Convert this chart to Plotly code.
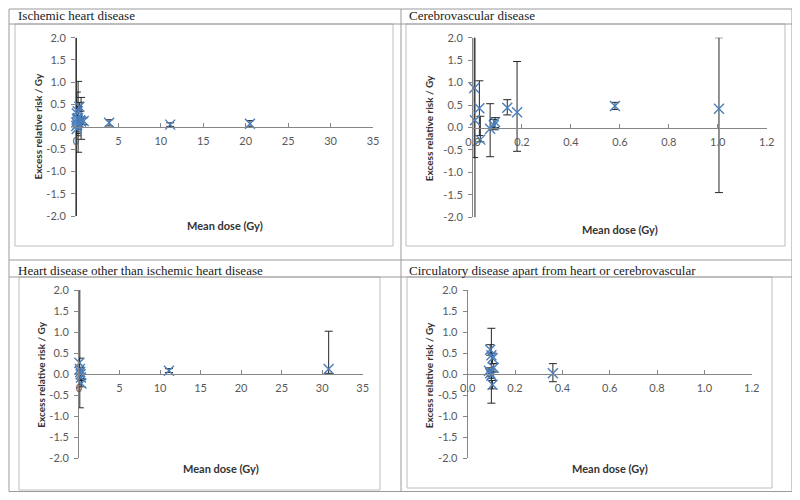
import plotly.graph_objects as go

# page body has an 8px margin, so the figure is drawn 8px smaller and shifted
OFF = 8
W, H = 800 - 2 * OFF, 500 - 2 * OFF

# ---------------- data ----------------
panel_titles = [
    "Ischemic heart disease",
    "Cerebrovascular disease",
    "Heart disease other than ischemic heart disease",
    "Circulatory disease apart from heart or cerebrovascular",
]
x_axis_title = "Mean dose (Gy)"
y_axis_title = "Excess relative risk / Gy"

y_tick_vals = [-2.0, -1.5, -1.0, -0.5, 0.0, 0.5, 1.0, 1.5, 2.0]
y_tick_text = ["-2.0", "-1.5", "-1.0", "-0.5", "0.0", "0.5", "1.0", "1.5", "2.0"]
x_tick_vals_35 = [0, 5, 10, 15, 20, 25, 30, 35]
x_tick_text_35 = ["0", "5", "10", "15", "20", "25", "30", "35"]
x_tick_vals_12 = [0.0, 0.2, 0.4, 0.6, 0.8, 1.0, 1.2]
x_tick_text_12 = ["0.0", "0.2", "0.4", "0.6", "0.8", "1.0", "1.2"]

# Ischemic heart disease
ihd_dose = [0.03, 0.05, 0.08, 0.10, 0.12, 0.15, 0.20, 0.25, 0.30, 0.40, 0.50, 0.60, 0.90, 3.9, 11.1, 20.5]
ihd_err = [0.02, 0.10, -0.05, 0.30, 0.18, 0.05, 0.35, 0.20, 0.10, 0.45, 0.15, 0.12, 0.13, 0.09, 0.05, 0.07]
ihd_lo = [-0.10, -2.50, -0.15, -0.20, 0.10, -0.05, 0.25, -0.57, 0.00, 0.35, 0.08, -0.28, 0.05, 0.02, 0.01, 0.00]
ihd_hi = [0.15, 2.50, 0.05, 0.78, 0.26, 0.15, 0.45, 1.02, 0.20, 0.55, 0.22, 0.66, 0.20, 0.16, 0.09, 0.14]

# Cerebrovascular disease
cbv_dose = [0.005, 0.008, 0.026, 0.030, 0.070, 0.085, 0.090, 0.140, 0.180, 0.580, 1.005]
cbv_err = [0.88, 0.16, 0.43, -0.27, -0.03, 0.05, 0.12, 0.44, 0.34, 0.48, 0.42]
cbv_lo = [-0.67, -2.50, -0.18, -0.32, -0.65, -0.05, 0.00, 0.28, -0.53, 0.40, -1.45]
cbv_hi = [2.50, 2.50, 1.04, 0.25, 0.53, 0.18, 0.22, 0.62, 1.47, 0.56, 2.00]

# Heart disease other than ischemic heart disease
hdo_dose = [0.05, 0.10, 0.15, 0.20, 0.25, 0.30, 11.1, 30.8]
hdo_err = [0.27, 0.12, 0.05, 0.00, -0.08, -0.22, 0.08, 0.12]
hdo_lo = [0.15, -0.80, -0.05, -0.10, -0.15, -0.30, 0.04, 0.02]
hdo_hi = [0.38, 2.50, 0.15, 0.10, 0.00, -0.12, 0.13, 1.02]

# Circulatory disease apart from heart or cerebrovascular
circ_dose = [0.095, 0.100, 0.105, 0.090, 0.095, 0.100, 0.105, 0.110, 0.360]
circ_err = [0.58, 0.45, 0.38, 0.08, 0.02, -0.03, -0.25, 0.15, 0.02]
circ_lo = [0.45, -0.69, 0.25, 0.00, -0.05, -0.10, -0.35, 0.05, -0.18]
circ_hi = [0.70, 1.09, 0.50, 0.15, 0.10, 0.05, -0.15, 0.25, 0.25]

# ---------------- styling ----------------
MARKER_COLOR = "#4A7EBB"
ERR_COLOR = "#262626"
AXIS_COLOR = "#868686"
TICK_FONT = dict(family="Lato, Open Sans, sans-serif", size=11, color="#595959")
TITLE_FONT = dict(family="Liberation Serif, Times New Roman, serif", size=13, color="#1a1a1a")
XTITLE_FONT = dict(family="Lato, Open Sans, sans-serif", size=11, color="#333333")
YTITLE_FONT = dict(family="Lato, Open Sans, sans-serif", size=10, color="#333333")
TABLE_LINE = "#9a9a9a"
BOX_LINE = "#bdbdbd"


def px_x(v):
    return (v - OFF) / W


def px_y(v):
    return 1 - (v - OFF) / H


# panel plot boxes in screen pixels: (left, right, top, bottom)
panels = [
    dict(box=(76, 373, 37.7, 216.0), xmax=35, xt=(x_tick_vals_35, x_tick_text_35),
         data=(ihd_dose, ihd_err, ihd_lo, ihd_hi),
         title_pos=(16, 16), xtitle=(224.5, 226), ytitle=(37.5, 127)),
    dict(box=(473, 766.7, 37.7, 217.3), xmax=1.2, xt=(x_tick_vals_12, x_tick_text_12),
         data=(cbv_dose, cbv_err, cbv_lo, cbv_hi),
         title_pos=(407, 16), xtitle=(620, 229), ytitle=(429.3, 128)),
    dict(box=(79, 362.7, 290.0, 458.3), xmax=35, xt=(x_tick_vals_35, x_tick_text_35),
         data=(hdo_dose, hdo_err, hdo_lo, hdo_hi),
         title_pos=(16, 270), xtitle=(220.7, 468), ytitle=(40.7, 375)),
    dict(box=(467.7, 751.7, 290.0, 458.3), xmax=1.2, xt=(x_tick_vals_12, x_tick_text_12),
         data=(circ_dose, circ_err, circ_lo, circ_hi),
         title_pos=(407, 270), xtitle=(610, 468), ytitle=(429.3, 375)),
]

fig = go.Figure()
annotations = []
shapes = []
layout_axes = {}

for i, p in enumerate(panels, start=1):
    sfx = "" if i == 1 else str(i)
    xa, ya = "x" + sfx, "y" + sfx
    dose, val, lo, hi = p["data"]
    plus = [h - v for h, v in zip(hi, val)]
    minus = [v - l for v, l in zip(val, lo)]
    # error bars (clipped to plot area)
    fig.add_trace(go.Scatter(
        x=dose, y=val, mode="markers", xaxis=xa, yaxis=ya,
        marker=dict(size=1, opacity=0),
        error_y=dict(type="data", symmetric=False, array=plus, arrayminus=minus,
                     color=ERR_COLOR, thickness=1, width=4),
        showlegend=False, hoverinfo="skip", cliponaxis=True,
    ))
    # markers (not clipped)
    fig.add_trace(go.Scatter(
        x=dose, y=val, mode="markers", xaxis=xa, yaxis=ya,
        marker=dict(symbol="x-thin", size=10, color=MARKER_COLOR,
                    line=dict(width=1.4, color=MARKER_COLOR)),
        showlegend=False, cliponaxis=False,
    ))
    l, r, t, b = p["box"]
    ydom = [px_y(b), px_y(t)]
    layout_axes["xaxis" + sfx] = dict(
        domain=[px_x(l), px_x(r)], range=[0, p["xmax"]], anchor="free",
        position=(ydom[0] + ydom[1]) / 2, automargin=False,
        showline=True, linecolor=AXIS_COLOR, linewidth=1, mirror=False,
        ticks="inside", ticklen=4, tickcolor=AXIS_COLOR, tickwidth=1,
        tickvals=p["xt"][0], ticktext=p["xt"][1], tickfont=TICK_FONT,
        ticklabelstandoff=4,
        showgrid=False, zeroline=False, fixedrange=True,
    )
    layout_axes["yaxis" + sfx] = dict(
        domain=ydom, range=[-2, 2], anchor=xa, automargin=False,
        showline=True, linecolor=AXIS_COLOR, linewidth=1,
        ticks="outside", ticklen=4, tickcolor=AXIS_COLOR, tickwidth=1,
        tickvals=y_tick_vals, ticktext=y_tick_text, tickfont=TICK_FONT,
        ticklabelstandoff=3,
        showgrid=False, zeroline=False, fixedrange=True,
    )
    tx, ty = p["title_pos"]
    annotations.append(dict(text=panel_titles[i - 1], x=px_x(tx), y=px_y(ty), xref="paper", yref="paper",
                            xanchor="left", yanchor="middle", showarrow=False, font=TITLE_FONT))
    ax, ay = p["xtitle"]
    annotations.append(dict(text="<b>" + x_axis_title + "</b>", x=px_x(ax), y=px_y(ay), xref="paper",
                            yref="paper", xanchor="center", yanchor="middle", showarrow=False,
                            font=XTITLE_FONT))
    yx, yy = p["ytitle"]
    annotations.append(dict(text="<b>" + y_axis_title + "</b>", x=px_x(yx), y=px_y(yy), xref="paper",
                            yref="paper", xanchor="center", yanchor="middle", showarrow=False,
                            textangle=-90, font=YTITLE_FONT))


def hline(x0, x1, y, color):
    shapes.append(dict(type="line", xref="paper", yref="paper", x0=px_x(x0), x1=px_x(x1),
                       y0=px_y(y), y1=px_y(y), line=dict(color=color, width=1)))


def vline(x, y0, y1, color):
    shapes.append(dict(type="line", xref="paper", yref="paper", x0=px_x(x), x1=px_x(x),
                       y0=px_y(y0), y1=px_y(y1), line=dict(color=color, width=1)))


def rect(x0, x1, y0, y1, color):
    shapes.append(dict(type="rect", xref="paper", yref="paper", x0=px_x(x0), x1=px_x(x1),
                       y0=px_y(y1), y1=px_y(y0), line=dict(color=color, width=1)))


# inner chart boxes
rect(15, 393, 24, 246, BOX_LINE)
rect(406, 785, 24, 246, BOX_LINE)
rect(19, 380, 277, 490, BOX_LINE)
rect(407, 772, 277, 488, BOX_LINE)
# table grid
hline(9, 792, 9, TABLE_LINE)
hline(9, 792, 24, TABLE_LINE)
hline(9, 792, 260, TABLE_LINE)
hline(9, 792, 277, TABLE_LINE)
hline(9, 792, 491.5, TABLE_LINE)
vline(9, 9, 491.5, TABLE_LINE)
vline(401, 9, 491.5, TABLE_LINE)
vline(792, 9, 491.5, TABLE_LINE)

fig.update_layout(
    width=W, height=H, margin=dict(l=0, r=0, t=0, b=0, pad=0, autoexpand=False),
    paper_bgcolor="white", plot_bgcolor="white",
    showlegend=False, annotations=annotations, shapes=shapes,
    **layout_axes,
)

fig.write_html("out.html")
